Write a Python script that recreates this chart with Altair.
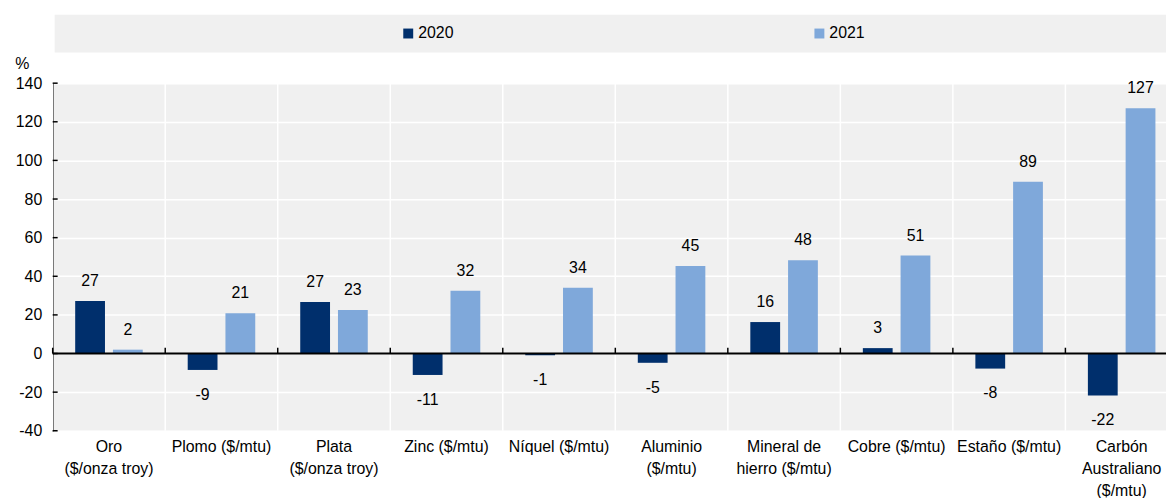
import altair as alt
import pandas as pd

categories = [
    "Oro\n($/onza troy)",
    "Plomo ($/mtu)",
    "Plata\n($/onza troy)",
    "Zinc ($/mtu)",
    "Níquel ($/mtu)",
    "Aluminio\n($/mtu)",
    "Mineral de\nhierro ($/mtu)",
    "Cobre ($/mtu)",
    "Estaño ($/mtu)",
    "Carbón\nAustraliano\n($/mtu)",
]
years = ["2020", "2021"]
values_2020 = [27.2, -8.5, 26.7, -11.1, -0.9, -4.8, 16.3, 2.8, -7.8, -21.7]
values_2021 = [2.0, 20.8, 22.6, 32.5, 34.0, 45.3, 48.3, 50.8, 89.0, 127.0]
labels_2020 = ["27", "-9", "27", "-11", "-1", "-5", "16", "3", "-8", "-22"]
labels_2021 = ["2", "21", "23", "32", "34", "45", "48", "51", "89", "127"]
y_ticks = [-40, -20, 0, 20, 40, 60, 80, 100, 120, 140]
colors = ["#002F6C", "#7FA8DA"]

FONT = "Liberation Sans, Arial, sans-serif"
FS = 16
W = 1121
H = 350

rows = []
for c, v0, v1, l0, l1 in zip(categories, values_2020, values_2021, labels_2020, labels_2021):
    rows.append({"category": c, "year": "2020", "value": v0, "label": l0})
    rows.append({"category": c, "year": "2021", "value": v1, "label": l1})
df = pd.DataFrame(rows)
cat_df = pd.DataFrame({"category": categories})
tick_df = pd.DataFrame({"value": y_ticks})

x_scale = alt.Scale(domain=categories, range=[0, 1133], paddingInner=0, paddingOuter=0)
y_scale = alt.Scale(domain=[-40, 140], nice=False, zero=False)
off_scale = alt.Scale(domain=years, paddingInner=0.2105, paddingOuter=0.596)

x_axis = alt.Axis(
    domain=False, ticks=False, grid=False, labelAngle=0, labelFontSize=FS,
    labelFont=FONT, labelColor="black", labelPadding=8, labelBaseline="top",
    labelLineHeight=22, labelAlign="center", labelOverlap=False,
    labelExpr="split(datum.label, '\\n')", title=None,
)
y_axis = alt.Axis(
    values=y_ticks, grid=True, gridColor="white", gridWidth=1.5,
    domainColor="black", domainWidth=1.5, ticks=False, labelPadding=11,
    labelFontSize=FS, labelFont=FONT, labelColor="black",
    labelExpr="datum.value + ''",
    title="%", titleAngle=0, titleX=-31, titleY=-15, titleAlign="center",
    titleBaseline="alphabetic", titleFontSize=FS, titleFontWeight="normal",
    titleFont=FONT, titleColor="black",
)

def X(band_pos=None):
    if band_pos is None:
        return alt.X("category:N", scale=x_scale, sort=categories, axis=x_axis)
    return alt.X("category:N", bandPosition=band_pos, scale=x_scale, sort=categories, axis=x_axis)

def Y():
    return alt.Y("value:Q", scale=y_scale, axis=y_axis)

band = alt.Chart(alt.Data(values=[{}])).mark_rect(color="#F0F0F0").encode(
    x=alt.value(2), x2=alt.value(W), y=alt.value(-69), y2=alt.value(-31)
)

boundaries = alt.Chart(cat_df).mark_rule(color="white", strokeWidth=1.5).encode(
    x=X(0), y=alt.value(0), y2=alt.value(H),
)

bars = alt.Chart(df).mark_bar().encode(
    x=X(),
    xOffset=alt.XOffset("year:N", scale=off_scale, sort=years),
    y=Y(),
    color=alt.Color(
        "year:N",
        scale=alt.Scale(domain=years, range=colors),
        legend=alt.Legend(
            orient="none", legendX=350, legendY=-58, direction="horizontal",
            columnPadding=360, symbolType="square", symbolSize=100,
            symbolStrokeWidth=0, labelFontSize=FS, labelFont=FONT,
            labelColor="black", labelOffset=2, title=None, padding=0,
        ),
    ),
)

zero_line = alt.Chart(alt.Data(values=[{}])).mark_rule(color="black", strokeWidth=2).encode(
    y=alt.datum(0, scale=y_scale, axis=y_axis), x=alt.value(0), x2=alt.value(W)
)

zero_ticks = alt.Chart(cat_df).mark_rule(color="black", strokeWidth=1.5).encode(
    x=X(0),
    y=alt.datum(0, scale=y_scale, axis=y_axis),
    y2=alt.datum(3),
)

y_tick_marks = alt.Chart(tick_df).mark_rule(color="black", strokeWidth=1.5).encode(
    y=Y(), x=alt.value(0), x2=alt.value(5)
)

text_pos = alt.Chart(df).transform_filter("datum.value >= 0").mark_text(
    font=FONT, fontSize=FS, color="black", baseline="alphabetic", dy=-15
).encode(
    x=X(), xOffset=alt.XOffset("year:N", scale=off_scale, sort=years), y=Y(), text="label:N"
)
text_neg = alt.Chart(df).transform_filter("datum.value < 0").mark_text(
    font=FONT, fontSize=FS, color="black", baseline="alphabetic", dy=30
).encode(
    x=X(), xOffset=alt.XOffset("year:N", scale=off_scale, sort=years), y=Y(), text="label:N"
)

chart = alt.layer(
    band, boundaries, bars, zero_line, zero_ticks, y_tick_marks, text_pos, text_neg
).properties(
    width=W,
    height=H,
    autosize="none",
    padding={"left": 45, "top": 74, "right": 0, "bottom": 66},
).configure_view(fill="#F0F0F0", stroke="transparent")

chart.save("out.html", embed_options={"renderer": "svg", "actions": False})
